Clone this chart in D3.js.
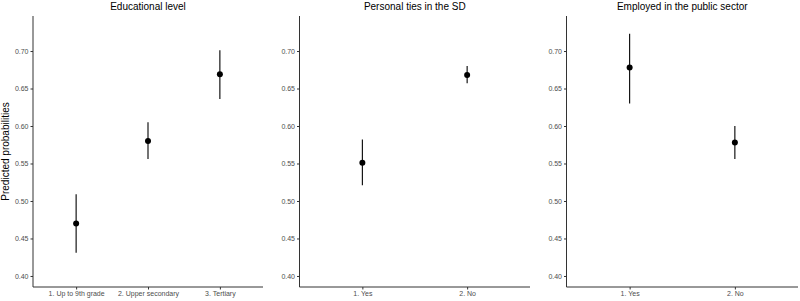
<!DOCTYPE html>
<html><head><meta charset="utf-8">
<script src="https://cdn.jsdelivr.net/npm/d3@7"></script>
<style>body{margin:0;background:#fff}svg{display:block}text{font-family:"Liberation Sans",Arial,sans-serif}</style>
</head><body>
<script>
// ---- data ----
const panelTitles = ["Educational level", "Personal ties in the SD", "Employed in the public sector"];
const eduCats = ["1. Up to 9th grade", "2. Upper secondary", "3. Tertiary"];
const eduEst = [0.470, 0.580, 0.669];
const eduLow = [0.431, 0.556, 0.636];
const eduHigh = [0.509, 0.605, 0.701];
const tiesCats = ["1. Yes", "2. No"];
const tiesEst = [0.551, 0.668];
const tiesLow = [0.521, 0.657];
const tiesHigh = [0.582, 0.680];
const pubCats = ["1. Yes", "2. No"];
const pubEst = [0.678, 0.578];
const pubLow = [0.630, 0.556];
const pubHigh = [0.723, 0.600];
const yTicks = [0.40, 0.45, 0.50, 0.55, 0.60, 0.65, 0.70];
const yDomain = [0.3853, 0.7467];
const yTitle = "Predicted probabilities";

(function () {
const W = 800, H = 301;
const svg = d3.select("body").append("svg").attr("width", W).attr("height", H);
const yTop = 16, yBot = 287;
const y = d3.scaleLinear().domain(yDomain).range([yBot, yTop]);

const panels = [
  {title: panelTitles[0], cats: eduCats, est: eduEst, lo: eduLow, hi: eduHigh, x0: 33, x1: 263},
  {title: panelTitles[1], cats: tiesCats, est: tiesEst, lo: tiesLow, hi: tiesHigh, x0: 299.5, x1: 530},
  {title: panelTitles[2], cats: pubCats, est: pubEst, lo: pubLow, hi: pubHigh, x0: 566.5, x1: 798}
];

panels.forEach(p => {
  const n = p.cats.length;
  const xl = d3.scaleLinear().domain([1 - 0.6, n + 0.6]).range([p.x0, p.x1]);
  const g = svg.append("g");

  const ya = g.append("g").attr("transform", `translate(${p.x0},0)`)
    .call(d3.axisLeft(y).tickValues(yTicks).tickFormat(d3.format(".2f")).tickSize(2.5).tickPadding(2));
  ya.select(".domain").attr("stroke", "#333").attr("stroke-width", 1).attr("d", `M0,${yTop}V${yBot}`);
  ya.selectAll(".tick line").attr("stroke", "#333");
  ya.selectAll(".tick text").attr("fill", "#4d4d4d").style("font-size", "7px").attr("font-family", null);

  const xs = d3.scalePoint().domain(p.cats).range([xl(1), xl(n)]);
  const xa = g.append("g").attr("transform", `translate(0,${yBot})`)
    .call(d3.axisBottom(xs).tickSize(2.5).tickPadding(2));
  xa.select(".domain").attr("stroke", "#333").attr("stroke-width", 1).attr("d", `M${p.x0},0H${p.x1}`);
  xa.selectAll(".tick line").attr("stroke", "#333");
  xa.selectAll(".tick text").attr("fill", "#4d4d4d").style("font-size", "7px").attr("font-family", null);

  g.selectAll("line.err").data(p.cats).join("line").attr("class", "err")
    .attr("x1", c => xs(c)).attr("x2", c => xs(c))
    .attr("y1", (c, i) => y(p.lo[i])).attr("y2", (c, i) => y(p.hi[i]))
    .attr("stroke", "#000").attr("stroke-width", 1.1);
  g.selectAll("circle").data(p.cats).join("circle")
    .attr("cx", c => xs(c)).attr("cy", (c, i) => y(p.est[i])).attr("r", 3).attr("fill", "#000");

  g.append("text").attr("x", (p.x0 + p.x1) / 2).attr("y", 10).attr("text-anchor", "middle")
    .style("font-size", "10px").attr("fill", "#000").text(p.title);
});

svg.append("text").attr("transform", `translate(9,${(yTop + yBot) / 2}) rotate(-90)`)
  .attr("text-anchor", "middle").style("font-size", "10px").attr("fill", "#000").text(yTitle);
})();
</script>
</body></html>
